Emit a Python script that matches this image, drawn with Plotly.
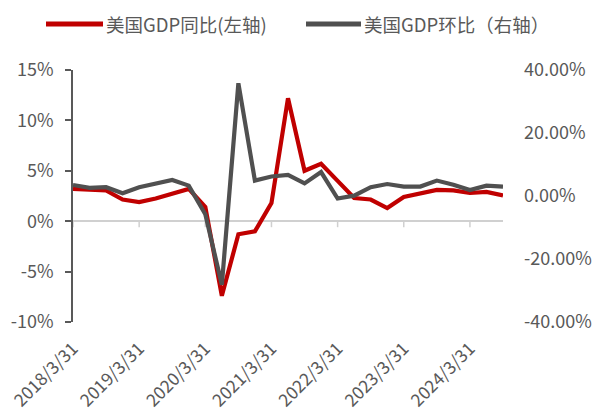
import plotly.graph_objects as go

# Quarter-end dates, 2018Q1 - 2024Q3
quarters = [
    "2018/3/31", "2018/6/30", "2018/9/30", "2018/12/31",
    "2019/3/31", "2019/6/30", "2019/9/30", "2019/12/31",
    "2020/3/31", "2020/6/30", "2020/9/30", "2020/12/31",
    "2021/3/31", "2021/6/30", "2021/9/30", "2021/12/31",
    "2022/3/31", "2022/6/30", "2022/9/30", "2022/12/31",
    "2023/3/31", "2023/6/30", "2023/9/30", "2023/12/31",
    "2024/3/31", "2024/6/30", "2024/9/30",
]

# US GDP, year-over-year (%), left axis
gdp_yoy = [3.2, 3.1, 3.05, 2.15, 1.9, 2.25, 2.75, 3.2,
           1.4, -7.4, -1.3, -1.0, 1.8, 12.2, 5.0, 5.7,
           4.0, 2.3, 2.15, 1.3, 2.4, 2.8, 3.1, 3.05,
           2.8, 2.9, 2.55]

# US GDP, quarter-over-quarter annualized (%), right axis
gdp_qoq = [3.5, 2.6, 2.8, 0.9, 2.8, 3.8, 5.1, 3.3,
           -5.8, -28.2, 35.8, 4.9, 6.2, 6.7, 4.0, 7.6,
           -0.8, 0.1, 2.8, 3.8, 3.0, 3.0, 4.9, 3.6,
           1.9, 3.3, 3.0]

x_ticks = ["2018/3/31", "2019/3/31", "2020/3/31", "2021/3/31",
           "2022/3/31", "2023/3/31", "2024/3/31"]

left_vals = [-10, -5, 0, 5, 10, 15]
left_text = ["-10%", "-5%", "0%", "5%", "10%", "15%"]
right_vals = [-40, -20, 0, 20, 40]
right_text = ["-40.00%", "-20.00%", "0.00%", "20.00%", "40.00%"]

series_names = ["美国GDP同比(左轴)", "美国GDP环比（右轴）"]
RED = "#C00000"
GRAY = "#505050"
TEXT = "#595959"
LIGHT = "#D0D0D0"
FONT = "Noto Sans CJK SC"

W, H = 597, 414
ML, MR, MT, MB = 73, 94, 70, 92
PW = W - ML - MR
PH = H - MT - MB
Y_RANGE = [-10, 15]
TICK_PX = 6

fig = go.Figure()
fig.add_trace(go.Scatter(x=quarters, y=gdp_yoy, mode="lines", name=series_names[0],
                         line=dict(color=RED, width=4.2), yaxis="y", showlegend=False))
fig.add_trace(go.Scatter(x=quarters, y=gdp_qoq, mode="lines", name=series_names[1],
                         line=dict(color=GRAY, width=4.2), yaxis="y2", showlegend=False))

n = len(quarters)

shapes = []
annotations = []

# category tick marks hanging below the zero line of the left axis
tick_depth = TICK_PX * (Y_RANGE[1] - Y_RANGE[0]) / PH
for t in x_ticks:
    shapes.append(dict(type="line", xref="x", yref="y", x0=t, x1=t,
                       y0=0, y1=-tick_depth,
                       line=dict(color=LIGHT, width=1.5), layer="below"))


def px_to_paper_x(px):
    return (px - ML) / PW


# legend drawn as line samples plus text
leg_y = 1 + (MT - 24) / PH
legend_items = [(46, 103, RED, series_names[0]), (306, 361, GRAY, series_names[1])]
for x0, x1, col, label in legend_items:
    shapes.append(dict(type="line", xref="paper", yref="paper",
                       x0=px_to_paper_x(x0), x1=px_to_paper_x(x1), y0=leg_y, y1=leg_y,
                       line=dict(color=col, width=5)))
    annotations.append(dict(text=label, xref="paper", yref="paper",
                            x=px_to_paper_x(x1 + 1), y=leg_y,
                            xanchor="left", yanchor="middle", showarrow=False,
                            font=dict(family=FONT, size=18.5, color=TEXT)))

fig.update_layout(
    width=W, height=H,
    margin=dict(l=ML, r=MR, t=MT, b=MB, autoexpand=False),
    paper_bgcolor="white", plot_bgcolor="white",
    font=dict(family=FONT, size=18, color=TEXT),
    showlegend=False,
    shapes=shapes,
    annotations=annotations,
    xaxis=dict(
        type="category", categoryorder="array", categoryarray=quarters,
        range=[0, n - 1], tickvals=x_ticks, ticktext=x_ticks, tickangle=-45,
        showline=False, showgrid=False, zeroline=False, ticks="",
        ticklabelstandoff=12, automargin=False,
        tickfont=dict(family=FONT, size=17.5, color=TEXT),
    ),
    yaxis=dict(
        range=Y_RANGE, tickvals=left_vals, ticktext=left_text,
        showline=True, linecolor=TEXT, linewidth=1.5,
        ticks="outside", ticklen=TICK_PX, tickwidth=1.5, tickcolor=TEXT,
        showgrid=False, zeroline=True, zerolinecolor=LIGHT, zerolinewidth=1.5,
        ticklabelstandoff=8, automargin=False,
        tickfont=dict(family=FONT, size=18, color=TEXT),
    ),
    yaxis2=dict(
        overlaying="y", side="right", anchor="x",
        range=[-40, 40], tickvals=right_vals, ticktext=right_text,
        showline=False, ticks="", showgrid=False, zeroline=False,
        ticklabelstandoff=20, automargin=False,
        tickfont=dict(family=FONT, size=18, color=TEXT),
    ),
)

fig.write_html("out.html")
